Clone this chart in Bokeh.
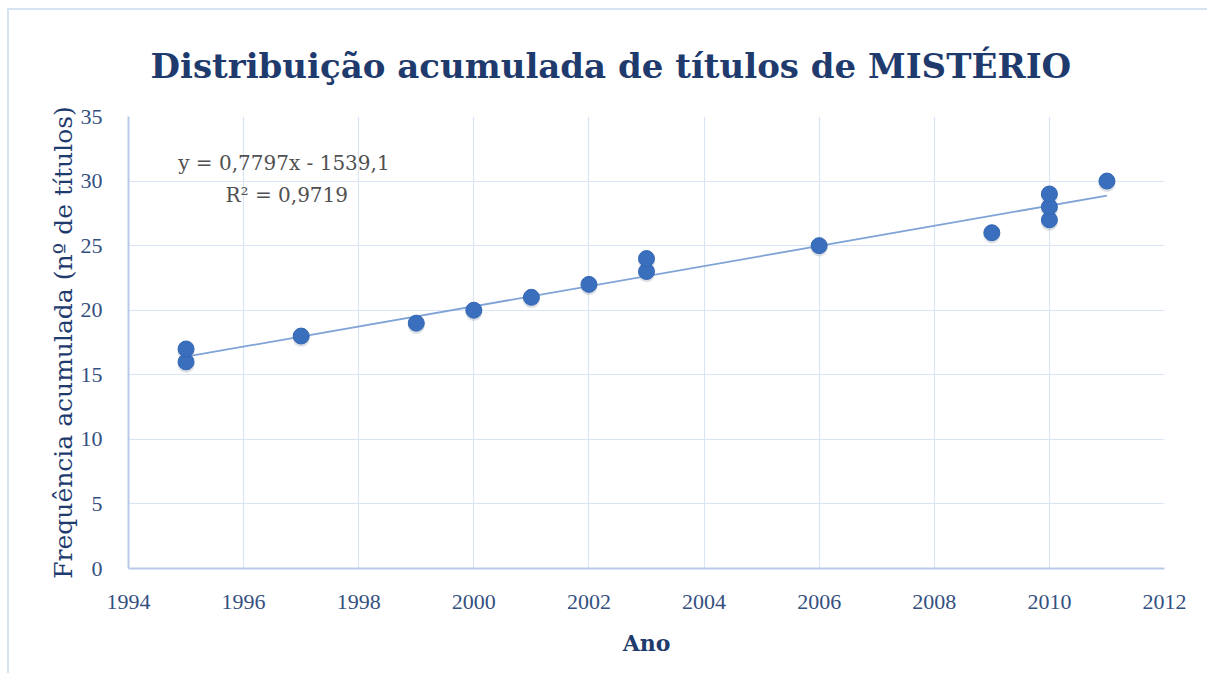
from bokeh.plotting import figure
from bokeh.models import ColumnDataSource, Label, SingleIntervalTicker, Range1d
from bokeh.transform import dodge
from bokeh.embed import file_html
from bokeh.resources import INLINE

# Data
anos = [1995, 1995, 1997, 1999, 2000, 2001, 2002, 2003, 2003, 2006, 2009, 2010, 2010, 2010, 2011]
freq = [16, 17, 18, 19, 20, 21, 22, 23, 24, 25, 26, 27, 28, 29, 30]
slope = 0.7797
intercept = -1539.1
r2 = 0.9719
trend_x = [min(anos), max(anos)]
trend_y = [slope * x + intercept for x in trend_x]

title = "Distribuição acumulada de títulos de MISTÉRIO"
x_label = "Ano"
y_label = "Frequência acumulada (nº de títulos)"
eq_text = "y = 0,7797x - 1539,1"
r2_text = "R² = 0,9719"

SERIF = "Liberation Serif"
WIDE = "DejaVu Serif"
NAVY = "#1F3B6E"
TICK = "#34507F"
GRID = "#D9E4F4"
AXIS = "#B7CBE8"

p = figure(width=1200, height=665, output_backend="svg", toolbar_location=None,
           x_range=Range1d(1994, 2012), y_range=Range1d(0, 35),
           min_border_left=119, min_border_right=45, min_border_top=106, min_border_bottom=107,
           styles={"margin-left": "7px", "margin-top": "8px",
                   "border-left": "2px solid #D5E3F2", "border-top": "2px solid #D5E3F2"})
p.outline_line_color = None
p.background_fill_color = "white"
p.border_fill_color = "white"

p.title.text = title
p.title.align = "left"
p.title.offset = 22
p.title.text_font = WIDE
p.title.text_font_style = "bold"
p.title.text_font_size = "34px"
p.title.text_color = NAVY
p.title.standoff = 62

p.xaxis.ticker = SingleIntervalTicker(interval=2)
p.yaxis.ticker = SingleIntervalTicker(interval=5)
for ax in (p.xaxis, p.yaxis):
    ax.major_tick_line_color = None
    ax.minor_tick_line_color = None
    ax.axis_line_color = AXIS
    ax.axis_line_width = 2
    ax.major_label_text_font = SERIF
    ax.major_label_text_font_size = "22px"
    ax.major_label_text_color = TICK
    ax.axis_label_text_font = WIDE
    ax.axis_label_text_color = NAVY

p.xaxis.axis_label = x_label
p.xaxis.axis_label_text_font_size = "22px"
p.xaxis.axis_label_text_font_style = "bold"
p.xaxis.major_label_standoff = 20
p.xaxis.axis_label_standoff = 18

p.yaxis.axis_label = y_label
p.yaxis.axis_label_text_font_size = "25px"
p.yaxis.axis_label_text_font_style = "normal"
p.yaxis.major_label_standoff = 20
p.yaxis.axis_label_standoff = 0

p.xgrid.grid_line_color = GRID
p.ygrid.grid_line_color = GRID
p.xgrid.grid_line_width = 1.2
p.ygrid.grid_line_width = 1.2

src = ColumnDataSource(dict(x=anos, y=freq))

p.line(trend_x, trend_y, line_color="#7FA3D6", line_width=1.8)

p.scatter(x="x", y=dodge("y", -0.18, range=p.y_range), source=src, size=17,
          fill_color="#9AA4B2", fill_alpha=0.35, line_color=None)
p.scatter(x="x", y="y", source=src, size=16, fill_color="#3A6FBE", line_color="#3467B4", line_width=1)

p.add_layout(Label(x=1996.7, y=31.4, text=eq_text, text_align="center", text_baseline="middle",
                   text_font=WIDE, text_font_size="20px", text_color="#505050"))
p.add_layout(Label(x=1996.75, y=28.9, text=r2_text, text_align="center", text_baseline="middle",
                   text_font=WIDE, text_font_size="20px", text_color="#505050"))

open("out.html", "w").write(file_html(p, INLINE))
